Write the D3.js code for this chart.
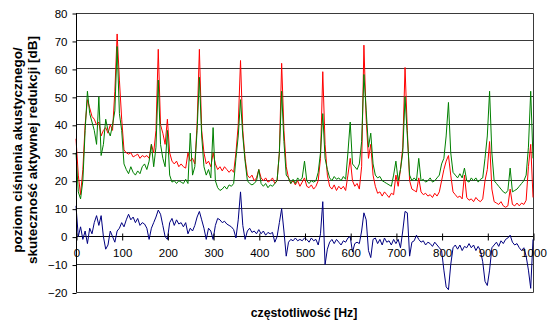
<!DOCTYPE html>
<html>
<head>
<meta charset="utf-8">
<script src="https://cdn.jsdelivr.net/npm/d3@7"></script>
<style>
  html, body { margin: 0; padding: 0; background: #fff; }
  svg { display: block; }
</style>
</head>
<body>
<svg id="chart" width="552" height="331"></svg>
<script>
// Spectrum sampled every 5 Hz from 0 to 1000 Hz
const freqStepHz = 5;
const xTicks = [0, 100, 200, 300, 400, 500, 600, 700, 800, 900, 1000];
const yTicks = [-20, -10, 0, 10, 20, 30, 40, 50, 60, 70, 80];

// Sound pressure level without active control [dB]
const redValues = [
  35, 22, 15, 24, 40, 49, 46, 43, 42, 40,
  41, 36, 38, 39, 37, 40, 38, 52, 72.5, 56,
  42, 31, 30, 29.5, 30, 28.5, 29, 29.5, 28, 29,
  28.5, 29, 28, 33, 30, 38, 67, 40, 37, 33,
  42, 30, 27, 26, 27, 25, 26, 25, 24.5, 30,
  27, 28, 26, 40, 67, 38, 30, 26, 27, 25,
  30, 26, 24, 25, 23.5, 25, 24, 23, 24, 23,
  30, 40, 63, 38, 28, 22, 21, 22, 20, 21,
  24, 21, 20, 21, 19.5, 20, 21, 19, 20, 30,
  62, 38, 25, 21, 19, 20, 18.5, 20, 18, 19.5,
  21, 18, 17.5, 18.5, 17, 18, 20, 28, 59, 33,
  22, 18, 17, 18.5, 16.5, 18, 17, 18, 16.5, 22,
  28, 20, 18, 19, 17, 25, 68.5, 42, 28, 33,
  22, 18, 15.5, 16, 14.5, 16, 15, 14, 15.5, 15,
  22, 18, 24, 32, 60.5, 38, 20, 17, 16.5, 16,
  21, 16, 15, 15.5, 14.5, 15, 14, 15.5, 14.5, 16,
  20, 24, 27, 29, 22, 16, 15, 14, 14.5, 13.5,
  22, 14, 13, 13.5, 12.5, 14, 13, 12.5, 13.5, 20,
  24, 34, 17, 12.5, 12, 11.5, 12.5, 11, 10.5, 11,
  17, 11.5, 11, 12, 11, 12, 11.5, 13, 25, 33,
  14
];

// Sound pressure level with active control [dB]
const greenValues = [
  30, 16, 13.5, 20, 38, 52, 44, 41, 38, 33,
  50, 29, 33, 42, 38, 36, 40, 45, 68, 44,
  38, 26, 24, 22.5, 25, 23, 22, 23.5, 22.5, 25,
  26, 24, 27, 33, 25, 32, 56, 33, 28, 25,
  38, 22, 19.5, 20, 19, 20, 19.5, 19, 20.5, 19,
  37, 22, 25, 38, 57, 36, 25, 22, 24, 21,
  39, 20, 17.5, 16.5, 17, 18, 17, 18.5, 18, 19,
  28, 36, 49, 36, 27, 20, 19, 18.5, 19, 20,
  24, 19, 18, 19, 17.5, 18.5, 18, 19, 20, 30,
  52, 34, 22, 21, 19, 20.5, 19, 21, 20, 21,
  27, 20, 19, 20, 19.5, 20, 23, 30, 44, 28,
  24, 21, 20, 21.5, 20.5, 21, 20, 21.5, 20.5, 30,
  41, 26, 25, 24, 26, 34, 58, 45, 32, 37,
  26, 22, 21, 21.5, 20, 19.5, 19, 18.5, 18, 22,
  27, 20, 24, 30, 50, 36, 22, 20, 21, 20,
  28, 20, 20.5, 19.5, 20, 21, 19.5, 20, 21, 22,
  26, 28, 36, 48, 30, 23, 22, 21, 22.5, 21,
  24.5, 20, 19.5, 21, 20, 21, 19.5, 20.5, 21, 28,
  36, 52, 30, 20, 19, 18, 17, 16, 15.5, 16.5,
  24.5, 16, 16.5, 17, 18, 19, 20, 22, 32, 52,
  28
];

// Active reduction effectiveness [dB]
const blueValues = [
  11, 0, 3.5, -1, 2, -2.5, 3, 1, 5, 7.5,
  4, 7.5, 0, -4.5, -3, 2, 0, -2, 2, 3,
  5, 3.5, 6, 8, 6, 7, 5, 6.5, 4, 5,
  4.5, 3, -1, 3, 5, 7, 9.5, 8, 4, 0,
  -1, 5, 6.5, 4, 6, 4.5, 5, 3.5, 5, 1,
  3, 2, 4, 7, 9, 6, 3, -1, 3, 2,
  -1, 4, 6.5, 6, 5, 5.5, 4.5, 4, 3.5, 2.5,
  -0.5, 6, 16, 4, -1, 2, 3, 1.5, 2, 1,
  2.5, 1, 2, 0.5, 1.5, 1, 1.5, -2, 0, 5,
  10, 2, -7, -2, -1, -1.5, -0.5, -1.5, -1, -1.5,
  -0.5, -1, -2, -0.5, -1.5, -1, -3, 1, 12.5, -10,
  -4.5, -2, -1, -2.5, -1, -2, -3, -1.5, -2, -0.5,
  0, -5.5, -2.5, -2, -2.5, 2, 8.5, 6, -5, -7.5,
  -1, -0.5, -2.5, -1, -3, -0.5, -2, -1.5, -3, -1,
  -2.5, -1, -4, 2, 9, 8.5, -7, -2, -1.5, 0.5,
  -1, -2, -1.5, -3, -2, -2.5, -3.5, -2, -3, -4,
  -5, -12, -18, -19, -10, -4, -3, -4.5, -3, -5,
  -3.5, -4, -2.5, -4, -3, -5, -3.5, -5, -9, -16,
  -17.5, -12, -4, -3, -2, -3.5, -1.5, -2.5, -1, -0.5,
  0.5, -2, -3, -2.5, -4, -5, -4, -7, -12, -18.5,
  -1
];

const seriesColors = ["#ff0000", "#008000", "#000080"];
const yTitleLines = ["poziom ciśnienia akustycznego/", "skuteczność aktywnej redukcji [dB]"];
const xTitle = "częstotliwość [Hz]";

const svg = d3.select("#chart");
const font = "Liberation Sans, Arial, Helvetica, sans-serif";

const x = d3.scaleLinear().domain([0, 1000]).range([76, 533]);
const y = d3.scaleLinear().domain([-20, 80]).range([292.5, 13]);
const crisp = v => Math.floor(v) + 0.5;

// Horizontal gridlines
svg.append("g")
  .selectAll("line")
  .data(yTicks)
  .join("line")
  .attr("x1", crisp(x(0)))
  .attr("x2", crisp(x(1000)))
  .attr("y1", d => crisp(y(d)))
  .attr("y2", d => crisp(y(d)))
  .attr("stroke", d => d === 0 ? "#000" : "#3a3a3a")
  .attr("stroke-width", 1);

// Right border of the plot area
svg.append("line")
  .attr("x1", crisp(x(1000))).attr("x2", crisp(x(1000)))
  .attr("y1", crisp(y(80))).attr("y2", crisp(y(-20)))
  .attr("stroke", "#3a3a3a");

// Data lines
const line = d3.line()
  .x((d, i) => x(i * freqStepHz))
  .y(d => y(d));

[redValues, greenValues, blueValues].forEach((vals, k) => {
  svg.append("path")
    .datum(vals)
    .attr("fill", "none")
    .attr("stroke", seriesColors[k])
    .attr("stroke-width", 1)
    .attr("stroke-linejoin", "round")
    .attr("d", line);
});

// Y axis on the left
const yAxis = d3.axisLeft(y).tickValues(yTicks).tickSize(4).tickPadding(5)
  .tickFormat(d3.format("d"));
const gy = svg.append("g")
  .attr("transform", `translate(${crisp(x(0))},0.5)`)
  .call(yAxis);
gy.select(".domain").attr("stroke", "#000").attr("d", `M0,${y(80) - 0.5}V${y(-20) - 0.5}`);
gy.selectAll(".tick line").attr("stroke", "#000");
gy.selectAll(".tick text")
  .attr("font-family", font)
  .attr("font-size", 11.5)
  .attr("fill", "#000");

// X axis along the zero line
const xAxis = d3.axisBottom(x).tickValues(xTicks).tickSize(4).tickPadding(8)
  .tickFormat(d3.format("d"));
const gx = svg.append("g")
  .attr("transform", `translate(0.5,${crisp(y(0))})`)
  .call(xAxis);
gx.select(".domain").remove();
gx.selectAll(".tick line").attr("y1", -3).attr("stroke", "#000");
gx.selectAll(".tick text")
  .attr("font-family", font)
  .attr("font-size", 11.5)
  .attr("fill", "#000");

// Axis titles
svg.append("g")
  .attr("transform", "translate(17.5,150) rotate(-90)")
  .selectAll("text")
  .data(yTitleLines)
  .join("text")
  .attr("x", 0)
  .attr("y", (d, i) => i * 15)
  .attr("dy", "0.35em")
  .attr("text-anchor", "middle")
  .attr("font-family", font)
  .attr("font-weight", "bold")
  .attr("font-size", 13.5)
  .text(d => d);

svg.append("text")
  .attr("x", 304)
  .attr("y", 317)
  .attr("text-anchor", "middle")
  .attr("font-family", font)
  .attr("font-weight", "bold")
  .attr("font-size", 12.3)
  .text(xTitle);
</script>
</body>
</html>
